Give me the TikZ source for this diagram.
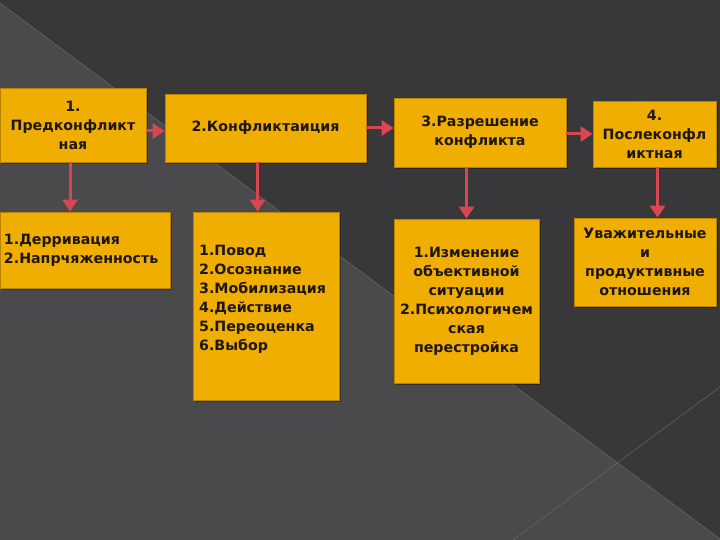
\documentclass[tikz,border=0pt]{standalone}
\usepackage{fontspec}
\setmainfont{DejaVu Sans}
\usetikzlibrary{arrows.meta,shadows}
\definecolor{bgdark}{HTML}{38383A}
\definecolor{bglight}{HTML}{4A4A4C}
\definecolor{bgline}{HTML}{6E6E70}
\definecolor{boxfill}{HTML}{F0AE00}
\definecolor{boxedge}{HTML}{B88400}
\definecolor{flowred}{HTML}{D9464F}
\definecolor{inkdark}{HTML}{1E1612}

\begin{document}
\begin{tikzpicture}[x=1pt,y=-1pt,
  stagebox/.style={draw=boxedge,line width=0.8pt,fill=boxfill,inner sep=0pt,
    align=center,text=inkdark,font=\bfseries\fontsize{14.2}{19}\selectfont,
    drop shadow={shadow xshift=2pt,shadow yshift=-2pt,fill=black,opacity=0.35}},
  listtext/.style={inner sep=0pt,align=left,text=inkdark,
    font=\bfseries\fontsize{14.2}{19}\selectfont},
  flow/.style={draw=flowred,line width=3pt,-{Triangle[width=15pt,length=12pt]}}]
\useasboundingbox (0,0) rectangle (720,540);
% background
\fill[bgdark] (0,0) rectangle (720,540);
\fill[bglight] (0,3) -- (720,539) -- (720,540) -- (0,540) -- cycle;
\draw[bgline] (0,3) -- (720,539);
\draw[bgline] (513,540) -- (720,387);

% stages, top row
\node[stagebox,minimum width=146,minimum height=74] (A1) at (73,125) {1.\\Предконфликт\\ная};
\node[stagebox,minimum width=201,minimum height=68] (A2) at (265.5,128) {2.Конфликтаиция};
\node[stagebox,minimum width=172,minimum height=69] (A3) at (480,132.5) {3.Разрешение\\конфликта};
\node[stagebox,minimum width=123,minimum height=66] (A4) at (654.5,134) {4.\\Послеконфл\\иктная};

% details, bottom row
\node[stagebox,align=left,inner xsep=4pt,text width=162,minimum height=76] (B1) at (85,250)
  {1.Дерривация\\2.Напрчяженность};
\node[stagebox,minimum width=146,minimum height=188] (B2) at (266,306) {};
\node[listtext,anchor=north west] (B2list) at (199,245)
  {1.Повод\\2.Осознание\\3.Мобилизация\\4.Действие\\5.Переоценка\\6.Выбор};
\node[stagebox,minimum width=145,minimum height=164] (B3) at (466.5,301)
  {1.Изменение\\объективной\\ситуации\\2.Психологичем\\ская\\перестройка};
\node[stagebox,minimum width=142,minimum height=88] (B4) at (645,262)
  {Уважительные\\и\\продуктивные\\отношения};

% arrows
\draw[flow] ([yshift=-6pt]A1.east) -- ([yshift=-6pt]A1.east -| A2.west);
\draw[flow] (A2.east) -- (A2.east -| A3.west);
\draw[flow] (A4.west -| A3.east) -- (A4.west);
\draw[flow] ([xshift=-3pt]A1.south) -- ([xshift=-3pt]A1.south |- B1.north);
\draw[flow] ([xshift=-8pt]A2.south) -- ([xshift=-8pt]A2.south |- B2.north);
\draw[flow] (B3.north |- A3.south) -- (B3.north);
\draw[flow] ([xshift=3pt]A4.south) -- ([xshift=3pt]A4.south |- B4.north);
\end{tikzpicture}
\end{document}
